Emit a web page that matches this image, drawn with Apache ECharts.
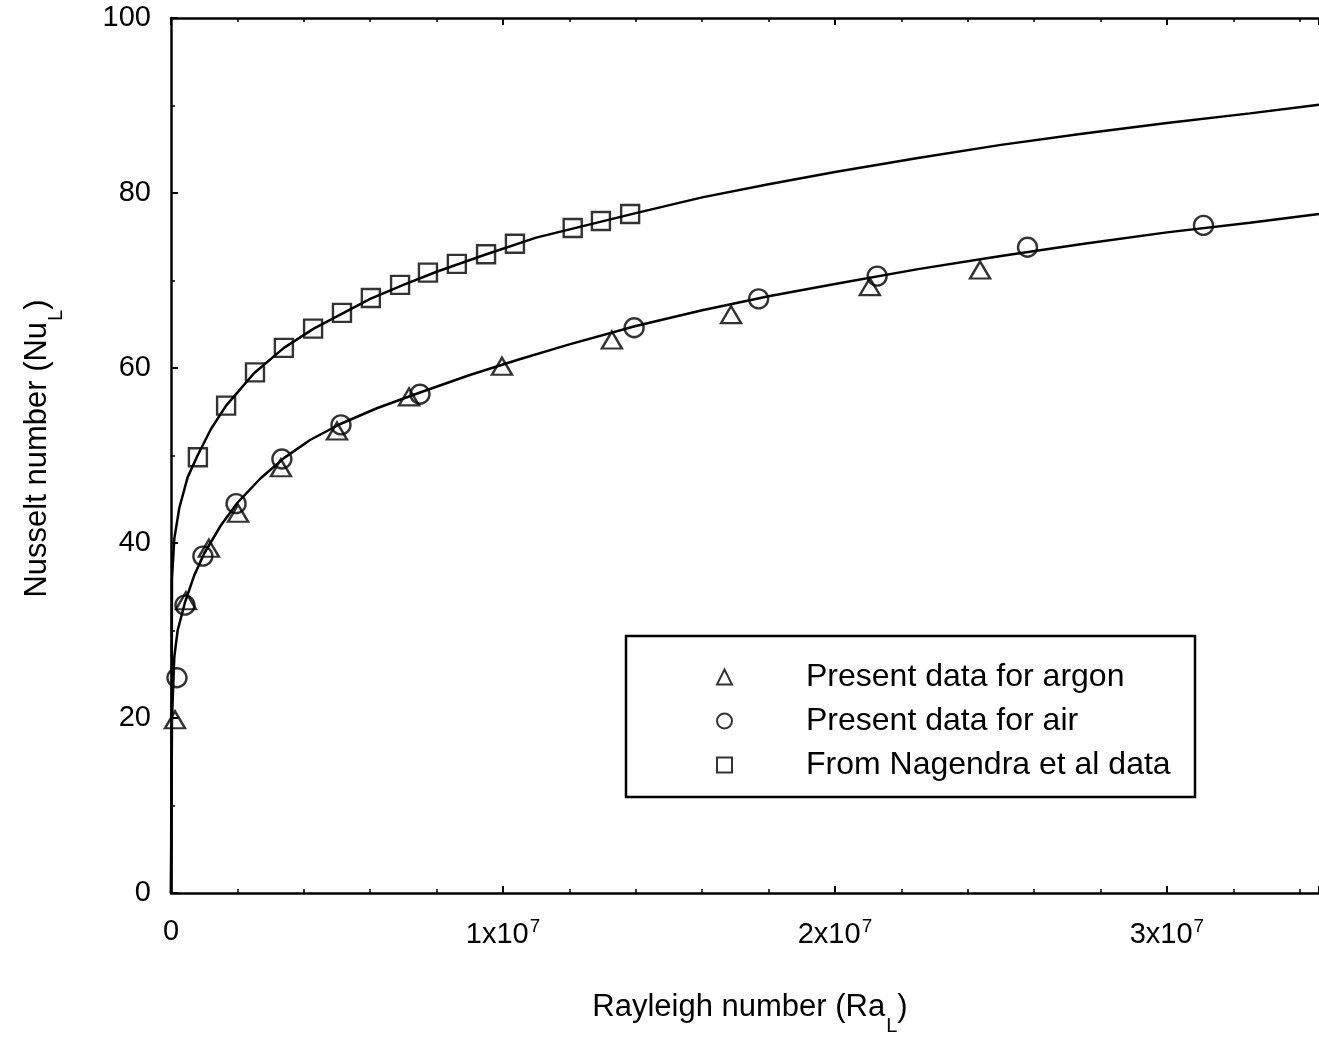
<!DOCTYPE html>
<html>
<head>
<meta charset="utf-8">
<script src="https://cdn.jsdelivr.net/npm/echarts@6/dist/echarts.min.js"></script>
<style>
html,body{margin:0;padding:0;background:#fff;}
#chart{width:1319px;height:1041px;}
</style>
</head>
<body>
<div id="chart"></div>
<script>
// ---- data ----
const argonRa = [1.2e5, 4.5e5, 1.14e6, 2.02e6, 3.31e6, 5.0e6, 7.17e6, 9.97e6, 1.328e7, 1.687e7, 2.105e7, 2.437e7];
const argonNu = [19.8, 33.4, 39.4, 43.4, 48.6, 52.8, 56.7, 60.2, 63.2, 66.1, 69.3, 71.2];

const airRa = [1.8e5, 4.2e5, 9.6e5, 1.96e6, 3.34e6, 5.12e6, 7.5e6, 1.395e7, 1.77e7, 2.127e7, 2.58e7, 3.11e7];
const airNu = [24.6, 32.9, 38.5, 44.5, 49.6, 53.5, 57.0, 64.6, 67.9, 70.5, 73.8, 76.3];

const nagRa = [8.1e5, 1.66e6, 2.53e6, 3.4e6, 4.28e6, 5.15e6, 6.02e6, 6.9e6, 7.74e6, 8.61e6, 9.49e6, 1.036e7, 1.21e7, 1.295e7, 1.383e7];
const nagNu = [49.8, 55.7, 59.5, 62.3, 64.5, 66.3, 68.0, 69.5, 70.9, 71.9, 73.0, 74.2, 76.0, 76.8, 77.6];

// fitted curves
const upperFitRa = [0, 3e4, 1e5, 2.5e5, 5e5, 8e5, 1.2e6, 1.66e6, 2.5e6, 3.4e6, 4.3e6, 5.2e6, 6e6, 7e6, 8e6, 9.5e6, 1.1e7, 1.25e7, 1.4e7, 1.6e7, 1.8e7, 2.0e7, 2.25e7, 2.5e7, 2.75e7, 3.0e7, 3.25e7, 3.458e7];
const upperFitNu = [0, 36, 40.5, 44, 47.5, 50, 53, 55.7, 59.4, 62.3, 64.5, 66.3, 67.9, 69.5, 71.0, 73.0, 74.9, 76.3, 77.7, 79.5, 81.0, 82.4, 84.0, 85.5, 86.8, 88.0, 89.1, 90.1];

const lowerFitRa = [0, 3e4, 1e5, 2e5, 4.2e5, 7e5, 1e6, 1.5e6, 2e6, 2.7e6, 3.4e6, 4.2e6, 5.1e6, 6.2e6, 7.5e6, 9e6, 1.05e7, 1.2e7, 1.4e7, 1.6e7, 1.8e7, 2.0e7, 2.25e7, 2.5e7, 2.75e7, 3.0e7, 3.25e7, 3.458e7];
const lowerFitNu = [0, 20, 27, 30, 33.2, 36.3, 38.8, 42.0, 44.6, 47.4, 49.7, 51.8, 53.6, 55.4, 57.2, 59.2, 61.0, 62.7, 64.8, 66.6, 68.2, 69.6, 71.3, 72.8, 74.2, 75.5, 76.6, 77.6];

const xTickValues = [0, 1e7, 2e7, 3e7];
const yTickLabels = ['0', '20', '40', '60', '80', '100'];

const legendNames = ['Present data for argon', 'Present data for air', 'From Nagendra et al data'];
const xName = '{m|Rayleigh number (Ra}{sub|L}{m|)}';
const yName = '{m|Nusselt number (Nu}{sub|L}{m|)}';

// ---- helpers ----
const zip = (a, b) => a.map((v, i) => [v, b[i]]);
const FONT = '"Liberation Sans", Arial, sans-serif';
const black = '#000';

const chart = echarts.init(document.getElementById('chart'));

function xLabel(v) {
  const k = xTickValues.indexOf(v);
  if (k < 0) return '';
  if (v === 0) return '0';
  return (v / 1e7) + 'x10{sup|7}';
}

const nameRich = {
  m: { fontSize: 31, fontFamily: FONT, color: black, verticalAlign: 'bottom', lineHeight: 34, padding: [0, 0, 13, 0] },
  sub: { fontSize: 20, fontFamily: FONT, color: black, verticalAlign: 'bottom', lineHeight: 22, padding: [0, 0, 0, 1] }
};

const commonAxis = {
  axisLine: { show: true, onZero: false, lineStyle: { color: black, width: 2.5 } },
  axisTick: { show: true, inside: true, length: 7, lineStyle: { color: black, width: 2 } },
  minorTick: { show: true, splitNumber: 5, length: 4, lineStyle: { color: black, width: 1.5 } },
  splitLine: { show: false }
};

const option = {
  backgroundColor: '#fff',
  animation: false,
  grid: { left: 171, right: 0, top: 18, bottom: 148, containLabel: false },
  xAxis: [
    Object.assign({}, commonAxis, {
      type: 'value', position: 'bottom', min: 0, max: 3.458e7, interval: 1e7,
      axisLabel: {
        formatter: xLabel, margin: 24, color: black, fontSize: 29, fontFamily: FONT,
        showMaxLabel: false,
        rich: { sup: { fontSize: 19, fontFamily: FONT, color: black, verticalAlign: 'top', padding: [0, 0, 16, 1] } }
      },
      name: xName, nameLocation: 'middle', nameGap: 109,
      nameTextStyle: { color: black, fontSize: 31, fontFamily: FONT, padding: [0, 0, 0, 10], rich: nameRich }
    }),
    Object.assign({}, commonAxis, {
      type: 'value', position: 'top', min: 0, max: 3.458e7, interval: 1e7,
      axisLabel: { show: false }
    })
  ],
  yAxis: [
    Object.assign({}, commonAxis, {
      type: 'value', position: 'left', min: 0, max: 100, interval: 20,
      minorTick: { show: true, splitNumber: 2, length: 4, lineStyle: { color: black, width: 1.5 } },
      axisLabel: {
        margin: 20, color: black, fontSize: 29, fontFamily: FONT,
        formatter: (v) => yTickLabels[Math.round(v / 20)] || ''
      },
      name: yName, nameLocation: 'middle', nameGap: 105,
      nameTextStyle: { color: black, fontSize: 31, fontFamily: FONT, padding: [0, 0, 0, 14], rich: nameRich }
    })
  ],
  legend: {
    orient: 'vertical', left: 711, top: 656,
    data: legendNames,
    itemWidth: 15, itemHeight: 15, itemGap: 12,
    formatter: (name) => '{gap|}' + name,
    textStyle: {
      color: black, fontSize: 32, fontFamily: FONT, lineHeight: 31,
      rich: { gap: { width: 69 } }
    },
    inactiveColor: black,
    selectedMode: false
  },
  graphic: [
    { type: 'rect', shape: { x: 626, y: 636, width: 569, height: 161 }, style: { fill: 'none', stroke: black, lineWidth: 2.5 }, z: 100 }
  ],
  series: [
    {
      name: 'fit upper', type: 'line', data: zip(upperFitRa, upperFitNu), showSymbol: false,
      smooth: false, lineStyle: { color: black, width: 2.5 }, z: 2, silent: true
    },
    {
      name: 'fit lower', type: 'line', data: zip(lowerFitRa, lowerFitNu), showSymbol: false,
      smooth: false, lineStyle: { color: black, width: 2.5 }, z: 2, silent: true
    },
    {
      name: legendNames[0], type: 'scatter', data: zip(argonRa, argonNu),
      symbol: 'triangle', symbolSize: [20, 17],
      itemStyle: { color: 'rgba(0,0,0,0)', borderColor: black, borderWidth: 2.4 }, z: 3
    },
    {
      name: legendNames[1], type: 'scatter', data: zip(airRa, airNu),
      symbol: 'circle', symbolSize: 19,
      itemStyle: { color: 'rgba(0,0,0,0)', borderColor: black, borderWidth: 2.4 }, z: 3
    },
    {
      name: legendNames[2], type: 'scatter', data: zip(nagRa, nagNu),
      symbol: 'rect', symbolSize: 18,
      itemStyle: { color: 'rgba(0,0,0,0)', borderColor: black, borderWidth: 2.4 }, z: 3
    }
  ]
};

chart.setOption(option);
</script>
</body>
</html>
